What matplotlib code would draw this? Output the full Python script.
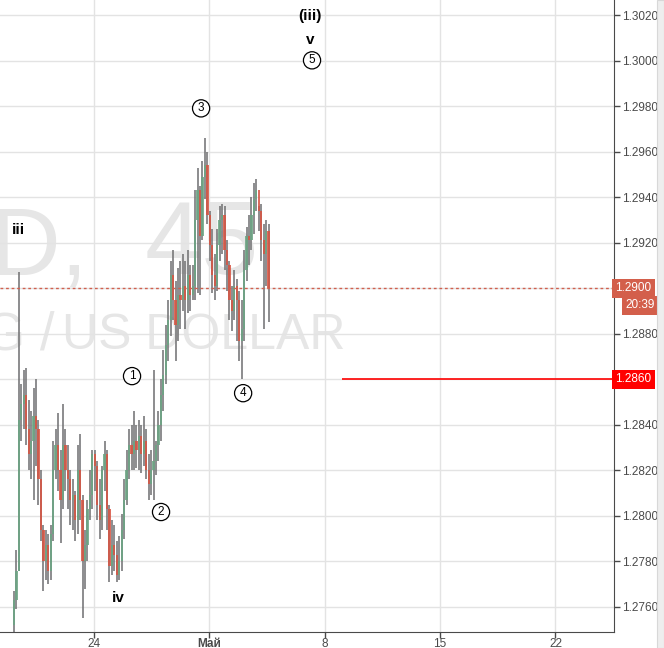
import numpy as np
import matplotlib
matplotlib.use("Agg")
import matplotlib.pyplot as plt
from matplotlib.patches import Rectangle

plt.rcParams['font.family'] = ['Liberation Sans', 'DejaVu Sans']

# ---------------- data ----------------
first_open = 1.2752
closes = [1.2763, 1.2776, 1.2842, 1.2849, 1.2853, 1.2838, 1.2827, 1.2833, 1.2844, 1.2838,
          1.2816, 1.2794, 1.2780, 1.2787, 1.2776, 1.2792, 1.2820, 1.2831, 1.2820, 1.2807,
          1.2831, 1.2820, 1.2816, 1.2807, 1.2809, 1.2798, 1.2820, 1.2807, 1.2780, 1.2787,
          1.2803, 1.2809, 1.2827, 1.2822, 1.2805, 1.2798, 1.2820, 1.2827, 1.2803, 1.2778,
          1.2787, 1.2783, 1.2774, 1.2780, 1.2794, 1.2807, 1.2820, 1.2831, 1.2827, 1.2833,
          1.2829, 1.2835, 1.2827, 1.2833, 1.2820, 1.2814, 1.2820, 1.2824, 1.2831, 1.2840,
          1.2853, 1.2862, 1.2875, 1.2886, 1.2906, 1.2895, 1.2884, 1.2897, 1.2895, 1.2901,
          1.2895, 1.2906, 1.2897, 1.2901, 1.2930, 1.2943, 1.2923, 1.2949, 1.2954, 1.2932,
          1.2919, 1.2906, 1.2901, 1.2919, 1.2930, 1.2932, 1.2917, 1.2910, 1.2895, 1.2890,
          1.2901, 1.2895, 1.2877, 1.2882, 1.2908, 1.2923, 1.2921, 1.2932, 1.2939, 1.2943,
          1.2934, 1.2921, 1.2915, 1.2925, 1.2900]
highs = [1.2767, 1.2785, 1.2907, 1.2858, 1.2864, 1.2865, 1.2851, 1.2846, 1.2856, 1.2860,
         1.2842, 1.2820, 1.2796, 1.2794, 1.2792, 1.2796, 1.2833, 1.2838, 1.2845, 1.2829,
         1.2849, 1.2838, 1.2831, 1.2820, 1.2816, 1.2811, 1.2831, 1.2836, 1.2809, 1.2794,
         1.2807, 1.2820, 1.2829, 1.2829, 1.2824, 1.2816, 1.2822, 1.2833, 1.2829, 1.2805,
         1.2798, 1.2796, 1.2789, 1.2791, 1.2801, 1.2816, 1.2829, 1.2838, 1.2840, 1.2846,
         1.2840, 1.2842, 1.2840, 1.2844, 1.2838, 1.2827, 1.2829, 1.2864, 1.2833, 1.2846,
         1.2860, 1.2873, 1.2884, 1.2895, 1.2912, 1.2917, 1.2903, 1.2909, 1.2912, 1.2915,
         1.2912, 1.2917, 1.2910, 1.2910, 1.2943, 1.2953, 1.2945, 1.2956, 1.2966, 1.2960,
         1.2934, 1.2926, 1.2915, 1.2926, 1.2936, 1.2937, 1.2936, 1.2921, 1.2912, 1.2901,
         1.2908, 1.2904, 1.2899, 1.2895, 1.2917, 1.2927, 1.2932, 1.2940, 1.2946, 1.2948,
         1.2936, 1.2937, 1.2928, 1.2930, 1.2928]
lows = [1.2749, 1.2759, 1.2776, 1.2833, 1.2838, 1.2831, 1.2820, 1.2816, 1.2807, 1.2822,
        1.2805, 1.2789, 1.2767, 1.2772, 1.2770, 1.2772, 1.2789, 1.2816, 1.2811, 1.2788,
        1.2803, 1.2811, 1.2803, 1.2796, 1.2794, 1.2789, 1.2792, 1.2798, 1.2755, 1.2768,
        1.2780, 1.2798, 1.2803, 1.2811, 1.2798, 1.2790, 1.2794, 1.2811, 1.2794, 1.2771,
        1.2774, 1.2776, 1.2771, 1.2772, 1.2776, 1.2790, 1.2805, 1.2816, 1.2820, 1.2820,
        1.2821, 1.2820, 1.2819, 1.2822, 1.2816, 1.2807, 1.2809, 1.2807, 1.2818, 1.2824,
        1.2833, 1.2846, 1.2858, 1.2868, 1.2879, 1.2886, 1.2868, 1.2877, 1.2882, 1.2890,
        1.2882, 1.2889, 1.2890, 1.2895, 1.2895, 1.2898, 1.2897, 1.2921, 1.2939, 1.2928,
        1.2912, 1.2898, 1.2895, 1.2899, 1.2912, 1.2915, 1.2908, 1.2899, 1.2886, 1.2881,
        1.2886, 1.2877, 1.2868, 1.2860, 1.2877, 1.2903, 1.2910, 1.2917, 1.2924, 1.2934,
        1.2925, 1.2912, 1.2882, 1.2901, 1.2885]

bar_start = 19.15          # day position of first bar (Apr 19.15)
bar_step = 0.1485          # days per bar (weekend-compressed axis)

x_tick_pos = [24, 31, 38, 45, 52]
x_tick_labels = ["24", "Май", "8", "15", "22"]
y_ticks = [1.2760, 1.2780, 1.2800, 1.2820, 1.2840, 1.2860, 1.2880, 1.2900,
           1.2920, 1.2940, 1.2960, 1.2980, 1.3000, 1.3020]

last_price = 1.2900
countdown = "20:39"
level_price = 1.2860
level_start = 39.05

wave_labels = ["(iii)", "v", "iii", "iv"]
wave_x = [37.11, 37.11, 19.39, 25.46]
wave_y = [1.30195, 1.30089, 1.29255, 1.27639]

circle_labels = ["1", "2", "3", "4", "5"]
circle_x = [26.31, 28.07, 30.50, 33.05, 37.23]
circle_y = [1.28614, 1.28017, 1.2979, 1.28539, 1.30001]

# ---------------- figure ----------------
W, H = 664, 648
fig = plt.figure(figsize=(W / 100, H / 100), dpi=100)
fig.patch.set_facecolor("white")
ax = fig.add_axes([0, 16 / H, 614 / W, 632 / H])
ax.set_xlim(18.3, 55.55)
ax.set_ylim(1.27490, 1.30266)

# watermark (symbol, interval, description)
wm = "#e6e6e6"
ax.text(88 / 614, 0.566, "GBPUSD,", transform=ax.transAxes, ha="right", va="baseline",
        fontsize=70, color=wm, zorder=0)
ax.text(259 / 614, 0.566, "45", transform=ax.transAxes, ha="right", va="baseline",
        fontsize=74, color=wm, zorder=0)
ax.text(54 / 614, 0.447, "POUND STERLING /", transform=ax.transAxes, ha="right",
        va="baseline", fontsize=38, color=wm, zorder=0)
ax.text(345 / 614, 0.447, "US DOLLAR", transform=ax.transAxes, ha="right",
        va="baseline", fontsize=36, color=wm, zorder=0)

# grid
for xp in x_tick_pos:
    ax.axvline(xp, color="#e3e3e3", lw=1, zorder=0.5)
for yp in y_ticks:
    ax.axhline(yp, color="#e3e3e3", lw=1, zorder=0.5)

# candles
closes_a = np.array(closes)
opens_a = np.concatenate([[first_open], closes_a[:-1]])
highs_a = np.array(highs)
lows_a = np.array(lows)
xs = bar_start + bar_step * np.arange(len(closes_a))
up = closes_a >= opens_a
ax.vlines(xs, lows_a, highs_a, color="#6e6e70", lw=1.1, zorder=2)
body_bottom = np.minimum(opens_a, closes_a)
body_h = np.maximum(np.abs(closes_a - opens_a), 0.00004)
colors = np.where(up, "#6ba583", "#d75442")
ax.bar(xs, body_h, bottom=body_bottom, width=bar_step * 0.92, color=colors,
       edgecolor="none", alpha=0.85, zorder=2.5)

# price line and level line
ax.axhline(last_price, color="#d0604f", lw=1, ls=(0, (2, 2)), zorder=3)
ax.hlines(level_price, level_start, 55.55, color="#ff0000", lw=1.2, zorder=3)

# wave labels
for t, xv, yv in zip(wave_labels, wave_x, wave_y):
    ax.text(xv, yv, t, ha="center", va="center", fontsize=11, fontweight="bold",
            color="black", zorder=4)
for t, xv, yv in zip(circle_labels, circle_x, circle_y):
    ax.text(xv, yv, t, ha="center", va="center", fontsize=8.5, color="black", zorder=4,
            bbox=dict(boxstyle="circle,pad=0.22", fc="white", ec="black", lw=0.9))

# axes styling
for s in ["left", "top"]:
    ax.spines[s].set_visible(False)
ax.spines["right"].set_color("#4a4a4a")
ax.spines["bottom"].set_color("#4a4a4a")
ax.yaxis.tick_right()
ax.set_yticks(y_ticks)
ax.set_yticklabels(["" if abs(v - last_price) < 1e-9 or abs(v - level_price) < 1e-9
                    else f"{v:.4f}" for v in y_ticks])
ax.set_xticks(x_tick_pos)
ax.set_xticklabels(x_tick_labels)
ax.tick_params(axis="y", direction="out", length=4, width=1, color="#4a4a4a",
               labelsize=8.5, labelcolor="#4a4a4a", pad=2)
ax.tick_params(axis="x", direction="out", length=4, width=1, color="#4a4a4a",
               labelsize=8.5, labelcolor="#4a4a4a", pad=0)
for lbl in ax.get_xticklabels():
    if lbl.get_text() == "Май":
        lbl.set_fontweight("bold")
ax.set_facecolor("white")

# price tags on right axis
tr = ax.get_yaxis_transform()
ax.text(1.002, last_price, f"{last_price:.4f}", transform=tr, ha="left", va="center",
        fontsize=8.5, color="white", zorder=6, clip_on=False,
        bbox=dict(boxstyle="square,pad=0.3", fc="#d35f4b", ec="none"))
ax.text(1.018, last_price - 0.00075, countdown, transform=tr, ha="left", va="center",
        fontsize=8.5, color="white", zorder=6, clip_on=False,
        bbox=dict(boxstyle="square,pad=0.3", fc="#d35f4b", ec="none"))
ax.text(1.002, level_price, f"{level_price:.4f}", transform=tr, ha="left", va="center",
        fontsize=8.5, color="white", zorder=6, clip_on=False,
        bbox=dict(boxstyle="square,pad=0.3", fc="#ff0000", ec="none"))

# right scrollbar strip
fig.patches.append(Rectangle((657 / W, 0), 7 / W, 1, transform=fig.transFigure,
                             fc="#eeeeee", ec="#d8d8d8", lw=0.8, zorder=0))

fig.savefig("out.png", dpi=100)
